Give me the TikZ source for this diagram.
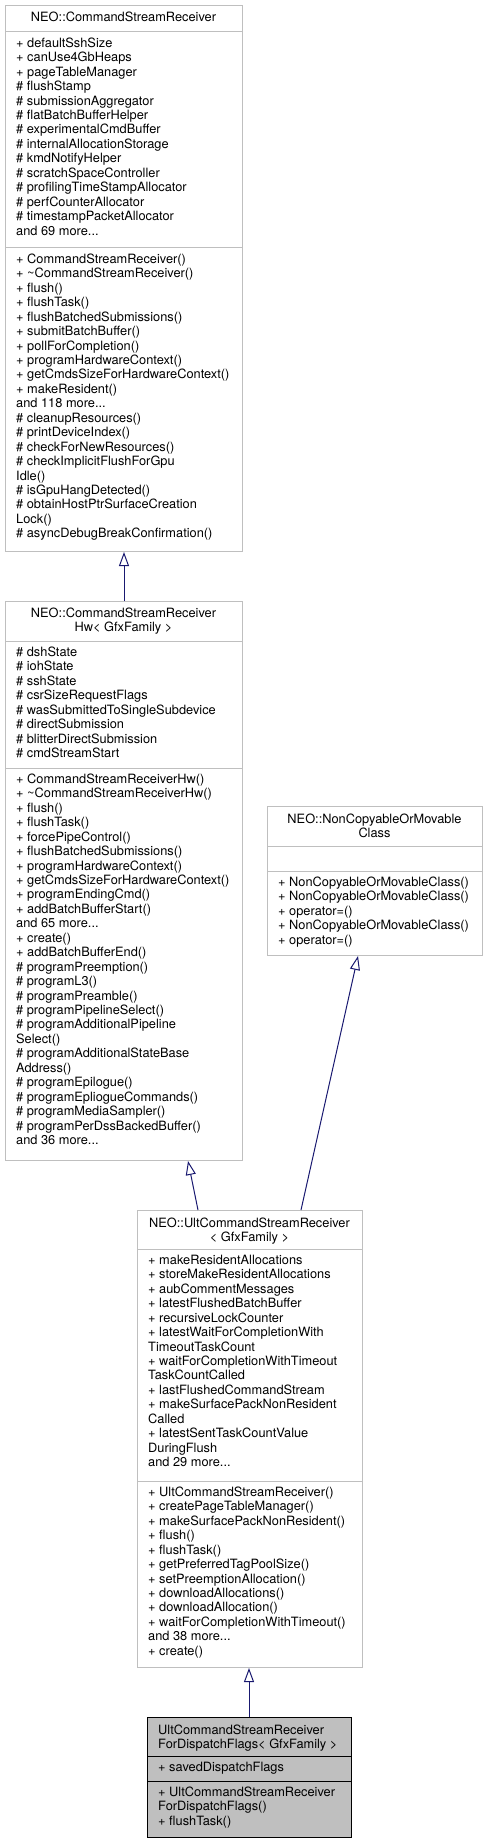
\documentclass[tikz,border=0pt]{standalone}
\usepackage{fontspec}
\setmainfont{TeX Gyre Heros}
\usetikzlibrary{arrows.meta}
\definecolor{edgec}{HTML}{191970}
\definecolor{boxgray}{HTML}{BFBFBF}
\newcommand\tdots{...}
\tikzset{
  txt/.style={inner sep=0pt, font=\fontsize{12.8}{14.45}\selectfont},
  umlbox/.style={draw=boxgray, line width=1pt, fill=white, inner sep=0pt, anchor=north west},
  mainbox/.style={draw=black, line width=1pt, fill=boxgray, inner sep=0pt, anchor=north west},
  sepline/.style={draw=boxgray, line width=1pt},
  mainsep/.style={draw=black, line width=1pt},
  inherit/.style={draw=edgec, line width=1pt, -{Triangle[open, length=14pt, width=10pt]}},
}
\newcommand\umlrows[4]{%
  \foreach \t [count=\i from 0] in {#4} {
    \node[txt, anchor=base west] (#1-\i) at (#2, #3+\i*14.45) {\t};
  }}
\newcommand\umlhead[4]{%
  \foreach \t [count=\i from 0] in {#4} {
    \node[txt, anchor=base] (#1-\i) at (#2, #3+\i*14.45) {\t};
  }}
\begin{document}
\begin{tikzpicture}[x=1pt, y=-1pt]
\useasboundingbox (0,0) rectangle (487,1843);

% ---------- Box 1: NEO::CommandStreamReceiver
\node[umlbox, minimum width=237pt, minimum height=546pt] (b1) at (5,5) {};
\draw[sepline] (5,32) -- (242,32);
\draw[sepline] (5,248) -- (242,248);
\umlhead{h1}{123.5}{22}{NEO::CommandStreamReceiver}
\umlrows{a1}{16}{47.3}{+ defaultSshSize, + canUse4GbHeaps, + pageTableManager, \# flushStamp, \# submissionAggregator, \# flatBatchBufferHelper, \# experimentalCmdBuffer, \# internalAllocationStorage, \# kmdNotifyHelper, \# scratchSpaceController, \# profilingTimeStampAllocator, \# perfCounterAllocator, \# timestampPacketAllocator, and 69 more\tdots}
\umlrows{m1}{16}{263.3}{+ CommandStreamReceiver(), + \textasciitilde CommandStreamReceiver(), + flush(), + flushTask(), + flushBatchedSubmissions(), + submitBatchBuffer(), + pollForCompletion(), + programHardwareContext(), + getCmdsSizeForHardwareContext(), + makeResident(), and 118 more\tdots, \# cleanupResources(), \# printDeviceIndex(), \# checkForNewResources(), \# checkImplicitFlushForGpu, Idle(), \# isGpuHangDetected(), \# obtainHostPtrSurfaceCreation, Lock(), \# asyncDebugBreakConfirmation()}

% ---------- Box 2: NEO::CommandStreamReceiverHw
\node[umlbox, minimum width=237pt, minimum height=559pt] (b2) at (5,601) {};
\draw[sepline] (5,641) -- (242,641);
\draw[sepline] (5,768) -- (242,768);
\umlhead{h2}{123.5}{617.5}{NEO::CommandStreamReceiver, Hw< GfxFamily >}
\umlrows{a2}{16}{656.3}{\# dshState, \# iohState, \# sshState, \# csrSizeRequestFlags, \# wasSubmittedToSingleSubdevice, \# directSubmission, \# blitterDirectSubmission, \# cmdStreamStart}
\umlrows{m2}{16}{783.3}{+ CommandStreamReceiverHw(), + \textasciitilde CommandStreamReceiverHw(), + flush(), + flushTask(), + forcePipeControl(), + flushBatchedSubmissions(), + programHardwareContext(), + getCmdsSizeForHardwareContext(), + programEndingCmd(), + addBatchBufferStart(), and 65 more\tdots, + create(), + addBatchBufferEnd(), \# programPreemption(), \# programL3(), \# programPreamble(), \# programPipelineSelect(), \# programAdditionalPipeline, Select(), \# programAdditionalStateBase, Address(), \# programEpilogue(), \# programEpliogueCommands(), \# programMediaSampler(), \# programPerDssBackedBuffer(), and 36 more\tdots}

% ---------- Box 3: NEO::NonCopyableOrMovableClass
\node[umlbox, minimum width=215pt, minimum height=149pt] (b3) at (267,806) {};
\draw[sepline] (267,846) -- (482,846);
\draw[sepline] (267,871) -- (482,871);
\umlhead{h3}{374.5}{823}{NEO::NonCopyableOrMovable, Class}
\umlrows{m3}{278}{886.3}{+ NonCopyableOrMovableClass(), + NonCopyableOrMovableClass(), + operator=(), + NonCopyableOrMovableClass(), + operator=()}

% ---------- Box 4: NEO::UltCommandStreamReceiver
\node[umlbox, minimum width=225pt, minimum height=457pt] (b4) at (137,1210) {};
\draw[sepline] (137,1249) -- (362,1249);
\draw[sepline] (137,1481) -- (362,1481);
\umlhead{h4}{249.5}{1227}{NEO::UltCommandStreamReceiver, < GfxFamily >}
\umlrows{a4}{148}{1264.3}{+ makeResidentAllocations, + storeMakeResidentAllocations, + aubCommentMessages, + latestFlushedBatchBuffer, + recursiveLockCounter, + latestWaitForCompletionWith, TimeoutTaskCount, + waitForCompletionWithTimeout, TaskCountCalled, + lastFlushedCommandStream, + makeSurfacePackNonResident, Called, + latestSentTaskCountValue, DuringFlush, and 29 more\tdots}
\umlrows{m4}{148}{1496.3}{+ UltCommandStreamReceiver(), + createPageTableManager(), + makeSurfacePackNonResident(), + flush(), + flushTask(), + getPreferredTagPoolSize(), + setPreemptionAllocation(), + downloadAllocations(), + downloadAllocation(), + waitForCompletionWithTimeout(), and 38 more\tdots, + create()}

% ---------- Box 5: UltCommandStreamReceiverForDispatchFlags
\node[mainbox, minimum width=204pt, minimum height=120pt] (b5) at (147,1717) {};
\draw[mainsep] (147,1756) -- (351,1756);
\draw[mainsep] (147,1781) -- (351,1781);
\umlrows{h5}{158}{1734}{UltCommandStreamReceiver, ForDispatchFlags< GfxFamily >}
\umlrows{a5}{158}{1771.3}{+ savedDispatchFlags}
\umlrows{m5}{158}{1796.3}{+ UltCommandStreamReceiver, ForDispatchFlags(), + flushTask()}

% ---------- Inheritance connectors
\draw[inherit] ([xshift=119pt]b2.north west) -- ([xshift=119pt]b1.south west);
\draw[inherit] ([xshift=61pt]b4.north west) -- ([xshift=183pt]b2.south west);
\draw[inherit] ([xshift=164pt]b4.north west) -- ([xshift=91pt]b3.south west);
\draw[inherit] ([xshift=102pt]b5.north west) -- ([xshift=112pt]b4.south west);
\end{tikzpicture}
\end{document}
